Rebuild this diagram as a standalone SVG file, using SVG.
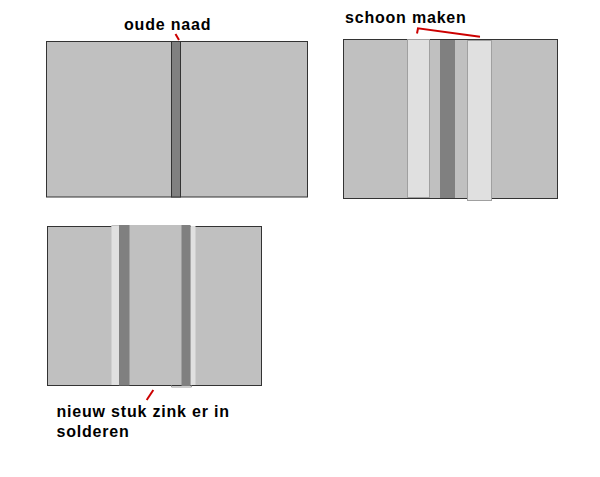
<svg xmlns="http://www.w3.org/2000/svg" width="600" height="477" viewBox="0 0 600 477">
<style>
.sheet{fill:#c0c0c0;stroke:#333;stroke-width:1}
.seam{fill:#808080}
.seamb{fill:#808080;stroke:#333;stroke-width:1}
.light{fill:#e0e0e0;stroke:#a0a0a0;stroke-width:1}
.lightn{fill:#e0e0e0}
.piece{fill:#c0c0c0}
.lbl{font-family:"Liberation Sans",Arial,sans-serif;font-weight:bold;font-size:16px;letter-spacing:0.8px;fill:#000}
.lead{fill:none;stroke:#cc0000;stroke-width:2}
</style>
<rect width="600" height="477" fill="#fff"/>
<g id="panel1">
<rect class="sheet" x="46.5" y="41.5" width="261" height="155.5"/>
<rect class="seamb" x="171.5" y="41.5" width="9" height="155.5"/>
</g>
<g id="panel2">
<rect class="sheet" x="343.5" y="39.5" width="214" height="159"/>
<rect class="light" x="407.5" y="39.5" width="22" height="158"/>
<rect class="seam" x="440" y="40" width="15" height="158"/>
<rect class="light" x="467.5" y="40.5" width="24" height="160"/>
</g>
<g id="panel3">
<rect class="sheet" x="47.5" y="226.5" width="214" height="159"/>
<rect class="piece" x="111.5" y="225" width="75" height="160"/>
<rect class="lightn" x="111.5" y="226" width="8" height="159"/>
<rect class="lightn" x="190.5" y="226" width="5" height="159"/>
<rect class="seam" x="119" y="225" width="10.5" height="160.5"/>
<rect class="seam" x="181.5" y="225" width="9" height="161"/>
<polyline points="171.5,385.5 171.5,387 191.5,387 191.5,385.5" fill="none" stroke="#999" stroke-width="1"/>
</g>
<g id="labels">
<text class="lbl" x="124" y="30">oude naad</text>
<text class="lbl" x="345" y="22.7">schoon maken</text>
<text class="lbl" x="56.5" y="416.7">nieuw stuk zink er in</text>
<text class="lbl" x="56.5" y="436.7">solderen</text>
</g>
<g id="connectors">
<line class="lead" x1="175.5" y1="34" x2="179" y2="40"/>
<polyline class="lead" points="417,33.5 418,28.3 480,36.7"/>
<line class="lead" x1="146.7" y1="400" x2="153.3" y2="390"/>
</g>
</svg>
